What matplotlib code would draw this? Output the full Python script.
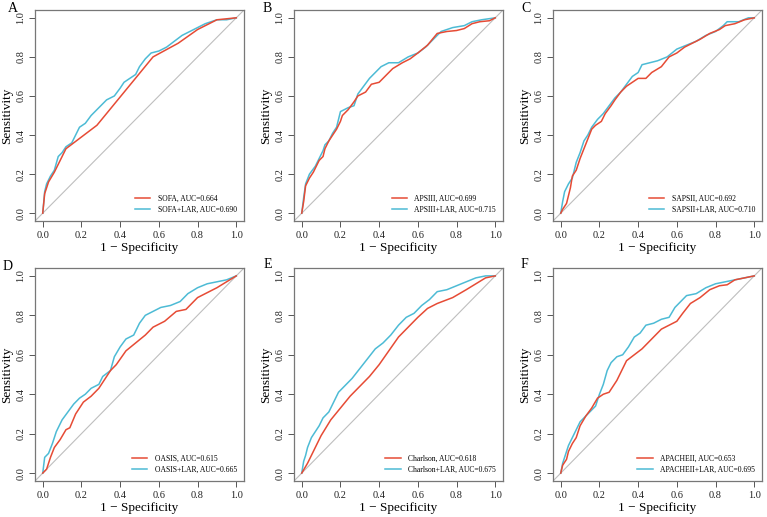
import numpy as np
import matplotlib
matplotlib.use("Agg")
import matplotlib.pyplot as plt

plt.rcParams['font.family'] = ['Liberation Serif', 'DejaVu Serif']

RED = '#E64B35'
CYAN = '#4DBBD5'

# panel A: SOFA
sofa_x = [0, 0.01, 0.03, 0.06, 0.09, 0.12, 0.28, 0.57, 0.70, 0.80, 0.90, 1.0]
sofa_y = [0, 0.10, 0.16, 0.21, 0.27, 0.33, 0.45, 0.80, 0.87, 0.94, 0.99, 1.0]
sofa_lar_x = [0, 0.01, 0.02, 0.04, 0.06, 0.08, 0.10, 0.12, 0.15, 0.17, 0.19, 0.22, 0.25, 0.28, 0.31,
              0.33, 0.37, 0.40, 0.42, 0.45, 0.48, 0.50, 0.53, 0.56, 0.60, 0.64, 0.68, 0.72, 0.78,
              0.84, 0.90, 0.95, 1.0]
sofa_lar_y = [0, 0.11, 0.15, 0.19, 0.22, 0.29, 0.31, 0.34, 0.36, 0.40, 0.44, 0.46, 0.50, 0.53, 0.56,
              0.58, 0.60, 0.64, 0.67, 0.69, 0.71, 0.75, 0.79, 0.82, 0.83, 0.85, 0.88, 0.91, 0.94,
              0.97, 0.99, 0.99, 1.0]

# panel B: APSIII
aps_x = [0, 0.01, 0.02, 0.04, 0.06, 0.08, 0.09, 0.11, 0.12, 0.14, 0.16, 0.18, 0.20, 0.21, 0.24, 0.27,
         0.29, 0.33, 0.36, 0.40, 0.43, 0.47, 0.52, 0.56, 0.60, 0.65, 0.70, 0.75, 0.80, 0.84, 0.88,
         0.92, 0.97, 1.0]
aps_y = [0, 0.06, 0.14, 0.18, 0.21, 0.25, 0.27, 0.29, 0.33, 0.37, 0.40, 0.43, 0.47, 0.50, 0.53, 0.57,
         0.60, 0.62, 0.66, 0.67, 0.70, 0.74, 0.77, 0.79, 0.82, 0.86, 0.92, 0.93, 0.935, 0.945, 0.97,
         0.98, 0.985, 1.0]
aps_lar_x = [0, 0.01, 0.02, 0.04, 0.07, 0.09, 0.11, 0.12, 0.14, 0.16, 0.18, 0.20, 0.22, 0.24, 0.27,
             0.29, 0.32, 0.35, 0.38, 0.41, 0.45, 0.50, 0.55, 0.60, 0.64, 0.68, 0.72, 0.78, 0.84,
             0.88, 0.93, 1.0]
aps_lar_y = [0, 0.08, 0.15, 0.20, 0.24, 0.28, 0.32, 0.35, 0.37, 0.41, 0.44, 0.52, 0.53, 0.54, 0.55,
             0.61, 0.65, 0.69, 0.72, 0.75, 0.77, 0.77, 0.80, 0.82, 0.85, 0.89, 0.93, 0.95, 0.96,
             0.98, 0.99, 1.0]

# panel C: SAPSII
saps_x = [0, 0.01, 0.03, 0.05, 0.06, 0.08, 0.10, 0.12, 0.14, 0.16, 0.18, 0.21, 0.23, 0.26, 0.28, 0.31,
          0.34, 0.37, 0.40, 0.44, 0.47, 0.52, 0.56, 0.60, 0.64, 0.68, 0.72, 0.77, 0.82, 0.85, 0.90,
          0.95, 1.0]
saps_y = [0, 0.02, 0.05, 0.13, 0.19, 0.22, 0.28, 0.33, 0.38, 0.43, 0.45, 0.47, 0.51, 0.55, 0.58, 0.62,
          0.65, 0.67, 0.69, 0.69, 0.72, 0.75, 0.80, 0.82, 0.85, 0.87, 0.89, 0.92, 0.94, 0.96, 0.97,
          0.99, 1.0]
saps_lar_x = [0, 0.01, 0.02, 0.04, 0.06, 0.08, 0.10, 0.12, 0.14, 0.16, 0.19, 0.22, 0.25, 0.28, 0.31,
              0.34, 0.37, 0.40, 0.42, 0.46, 0.50, 0.55, 0.60, 0.65, 0.70, 0.75, 0.80, 0.84, 0.86,
              0.92, 0.97, 1.0]
saps_lar_y = [0, 0.06, 0.11, 0.15, 0.18, 0.26, 0.31, 0.37, 0.40, 0.44, 0.48, 0.51, 0.55, 0.59, 0.62,
              0.66, 0.70, 0.72, 0.76, 0.77, 0.78, 0.80, 0.84, 0.86, 0.88, 0.91, 0.93, 0.96, 0.98,
              0.98, 1.0, 1.0]

# panel D: OASIS
oasis_x = [0, 0.02, 0.04, 0.06, 0.09, 0.12, 0.14, 0.17, 0.21, 0.25, 0.29, 0.33, 0.35, 0.38, 0.43,
           0.48, 0.53, 0.57, 0.63, 0.69, 0.74, 0.80, 0.86, 0.90, 0.95, 1.0]
oasis_y = [0, 0.02, 0.08, 0.13, 0.17, 0.22, 0.23, 0.30, 0.36, 0.39, 0.43, 0.49, 0.52, 0.55, 0.62,
           0.66, 0.70, 0.74, 0.77, 0.82, 0.83, 0.89, 0.92, 0.94, 0.97, 1.0]
oasis_lar_x = [0, 0.01, 0.03, 0.05, 0.07, 0.10, 0.13, 0.16, 0.19, 0.22, 0.25, 0.29, 0.31, 0.35, 0.37,
               0.40, 0.43, 0.47, 0.50, 0.53, 0.57, 0.61, 0.66, 0.71, 0.75, 0.80, 0.85, 0.90, 0.95,
               1.0]
oasis_lar_y = [0, 0.08, 0.10, 0.15, 0.21, 0.27, 0.31, 0.35, 0.38, 0.40, 0.43, 0.45, 0.49, 0.52, 0.59,
               0.64, 0.68, 0.70, 0.76, 0.80, 0.82, 0.84, 0.85, 0.87, 0.91, 0.94, 0.96, 0.97, 0.98,
               1.0]

# panel E: Charlson
charl_x = [0, 0.03, 0.06, 0.10, 0.15, 0.20, 0.25, 0.30, 0.35, 0.40, 0.45, 0.50, 0.55, 0.60, 0.65,
           0.70, 0.78, 0.85, 0.90, 0.95, 1.0]
charl_y = [0, 0.05, 0.11, 0.19, 0.27, 0.33, 0.39, 0.44, 0.49, 0.55, 0.62, 0.69, 0.74, 0.79, 0.835,
           0.86, 0.89, 0.93, 0.96, 0.99, 1.0]
charl_lar_x = [0, 0.01, 0.02, 0.03, 0.05, 0.07, 0.09, 0.11, 0.14, 0.16, 0.19, 0.22, 0.26, 0.30, 0.34,
               0.38, 0.42, 0.46, 0.50, 0.54, 0.58, 0.62, 0.66, 0.70, 0.75, 0.80, 0.85, 0.90, 0.95,
               1.0]
charl_lar_y = [0, 0.06, 0.09, 0.13, 0.18, 0.21, 0.24, 0.28, 0.31, 0.35, 0.41, 0.44, 0.48, 0.53, 0.58,
               0.63, 0.66, 0.70, 0.75, 0.79, 0.81, 0.85, 0.88, 0.92, 0.93, 0.95, 0.97, 0.99, 1.0,
               1.0]

# panel F: APACHEII
apache_x = [0, 0.01, 0.03, 0.04, 0.06, 0.08, 0.10, 0.13, 0.16, 0.19, 0.22, 0.25, 0.29, 0.32, 0.34,
            0.38, 0.42, 0.47, 0.52, 0.56, 0.60, 0.63, 0.67, 0.72, 0.77, 0.82, 0.86, 0.90, 0.95, 1.0]
apache_y = [0, 0.04, 0.07, 0.11, 0.15, 0.18, 0.24, 0.29, 0.33, 0.38, 0.40, 0.41, 0.47, 0.53, 0.57,
            0.60, 0.63, 0.68, 0.73, 0.75, 0.77, 0.81, 0.86, 0.89, 0.93, 0.95, 0.955, 0.98, 0.99, 1.0]
apache_lar_x = [0, 0.01, 0.02, 0.04, 0.06, 0.08, 0.10, 0.12, 0.15, 0.18, 0.20, 0.22, 0.24, 0.26, 0.29,
                0.32, 0.35, 0.38, 0.41, 0.44, 0.48, 0.52, 0.56, 0.59, 0.62, 0.65, 0.70, 0.75, 0.80,
                0.85, 0.90, 0.95, 1.0]
apache_lar_y = [0, 0.05, 0.08, 0.14, 0.18, 0.22, 0.26, 0.28, 0.31, 0.34, 0.40, 0.45, 0.52, 0.56, 0.59,
                0.60, 0.64, 0.69, 0.71, 0.75, 0.76, 0.78, 0.79, 0.84, 0.87, 0.90, 0.91, 0.94, 0.96,
                0.97, 0.98, 0.99, 1.0]

panels = [
    ('A', (sofa_x, sofa_y, 'SOFA, AUC=0.664'), (sofa_lar_x, sofa_lar_y, 'SOFA+LAR, AUC=0.690')),
    ('B', (aps_x, aps_y, 'APSIII, AUC=0.699'), (aps_lar_x, aps_lar_y, 'APSIII+LAR, AUC=0.715')),
    ('C', (saps_x, saps_y, 'SAPSII, AUC=0.692'), (saps_lar_x, saps_lar_y, 'SAPSII+LAR, AUC=0.710')),
    ('D', (oasis_x, oasis_y, 'OASIS, AUC=0.615'), (oasis_lar_x, oasis_lar_y, 'OASIS+LAR, AUC=0.665')),
    ('E', (charl_x, charl_y, 'Charlson, AUC=0.618'), (charl_lar_x, charl_lar_y, 'Charlson+LAR, AUC=0.675')),
    ('F', (apache_x, apache_y, 'APACHEII, AUC=0.653'), (apache_lar_x, apache_lar_y, 'APACHEII+LAR, AUC=0.695')),
]

W, H = 767, 517
fig = plt.figure(figsize=(W / 100, H / 100), dpi=100)

# pixel boxes (left, top, right, bottom)
lefts = [35, 294, 553]
rows = [(10, 221), (268, 481)]
letter_pos = [(13, 8), (267, 8), (526, 8), (8, 267), (268, 264), (524, 264)]

ticks = [0.0, 0.2, 0.4, 0.6, 0.8, 1.0]
for i, (letter, base, comb) in enumerate(panels):
    l = lefts[i % 3]
    t, b = rows[i // 3]
    r = l + 209
    ax = fig.add_axes([l / W, 1 - b / H, (r - l) / W, (b - t) / H])
    ax.plot([-0.04, 1.04], [-0.04, 1.04], color='#BEBEBE', lw=0.8, zorder=1)
    ax.plot(base[0], base[1], color=RED, lw=1.1, label=base[2], zorder=3)
    ax.plot(comb[0], comb[1], color=CYAN, lw=1.1, label=comb[2], zorder=2)
    ax.set_xlim(-0.04, 1.04)
    ax.set_ylim(-0.04, 1.04)
    ax.set_xticks(ticks)
    ax.set_yticks(ticks)
    ax.set_xticklabels(['%.1f' % v for v in ticks])
    ax.set_yticklabels(['%.1f' % v for v in ticks], rotation=90, va='center')
    ax.tick_params(direction='out', length=4, width=0.7, colors='#555555',
                   labelsize=7.5, labelcolor='#222222', pad=3)
    for s in ax.spines.values():
        s.set_color('#777777')
        s.set_linewidth(0.9)
    ax.set_xlabel('1 \u2212 Specificity', fontsize=9.5, labelpad=2)
    ax.set_ylabel('Sensitivity', fontsize=9.5, labelpad=2)
    ax.legend(loc='lower right', frameon=False, fontsize=5.5, handlelength=2.0,
              handletextpad=1.0, labelspacing=0.45, borderaxespad=0.5)
    fig.text(letter_pos[i][0] / W, 1 - letter_pos[i][1] / H, letter, fontsize=10,
             ha='center', va='center')

fig.savefig('out.png', dpi=100)
